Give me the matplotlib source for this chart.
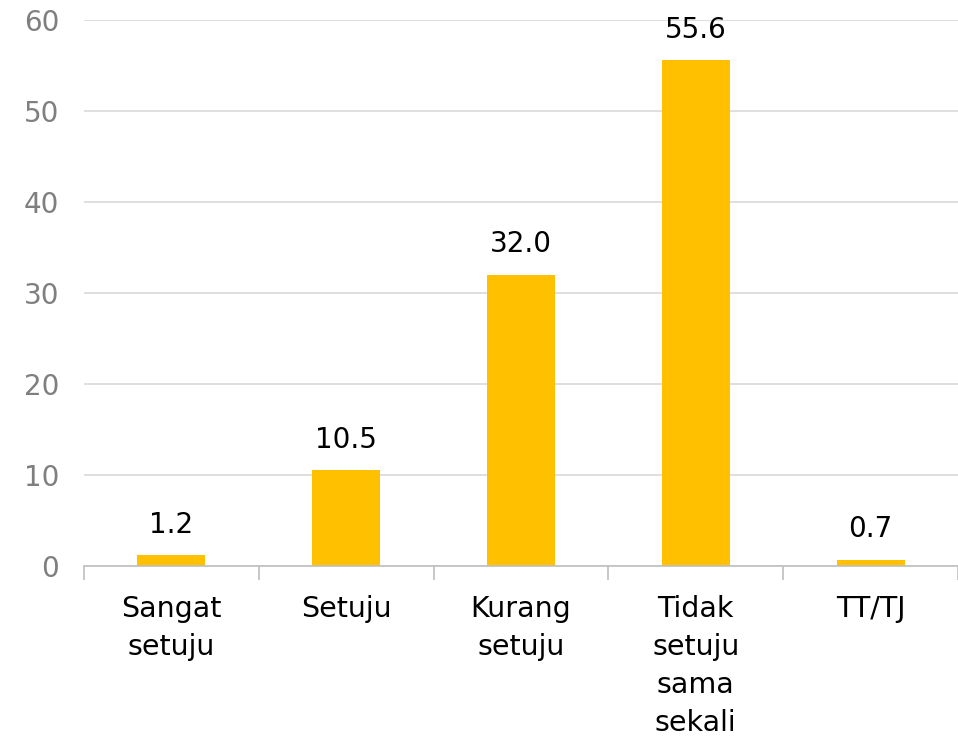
import numpy as np
import matplotlib
matplotlib.use('Agg')
import matplotlib.pyplot as plt

# Data
categories = ['Sangat\nsetuju', 'Setuju', 'Kurang\nsetuju', 'Tidak\nsetuju\nsama\nsekali', 'TT/TJ']
values = [1.2, 10.5, 32.0, 55.6, 0.7]
y_ticks = [0, 10, 20, 30, 40, 50, 60]

plt.rcParams['font.family'] = ['DejaVu Sans']

fig = plt.figure(figsize=(9.58, 7.38), dpi=100)
ax = fig.add_axes([84 / 958, 172 / 738, 874 / 958, 546 / 738])

x = np.arange(len(categories))
ax.bar(x, values, width=0.39, color='#FFC000', zorder=3)

for xi, v in zip(x, values):
    ax.text(xi, v + 1.8, f'{v:.1f}', ha='center', va='bottom', fontsize=20, color='#000000')

ax.set_xlim(-0.5, len(categories) - 0.5)
ax.set_ylim(0, 60)
ax.set_yticks(y_ticks)
ax.set_yticklabels([str(t) for t in y_ticks], fontsize=20, color='#7f7f7f')
ax.grid(axis='y', color='#d9d9d9', linewidth=1.2, zorder=0)

# category labels without ticks, boundary ticks separately
ax.set_xticks(x)
ax.set_xticklabels(categories, fontsize=20.5, color='#000000', linespacing=1.45, va='top')
ax.tick_params(axis='x', length=0, pad=21)
ax.set_xticks(np.arange(len(categories) + 1) - 0.5, minor=True)
ax.tick_params(axis='x', which='minor', length=10, color='#bfbfbf', width=1.2)
ax.tick_params(axis='y', length=0, pad=18)

for s in ['top', 'right', 'left']:
    ax.spines[s].set_visible(False)
ax.spines['bottom'].set_color('#bfbfbf')
ax.spines['bottom'].set_linewidth(1.2)
ax.spines['bottom'].set_zorder(4)

fig.savefig('out.png', dpi=100)
